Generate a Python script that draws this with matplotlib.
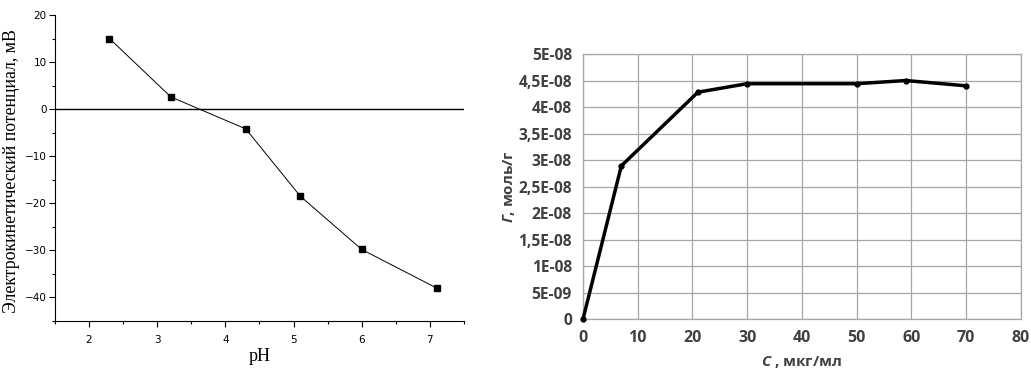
import numpy as np
import matplotlib.pyplot as plt
from matplotlib.ticker import MultipleLocator, FuncFormatter

# Левый график: дзета-потенциал от pH
ph = [2.3, 3.2, 4.3, 5.1, 6.0, 7.1]
zeta = [15.0, 2.6, -4.2, -18.5, -29.8, -38.0]

# Правый график: изотерма адсорбции
conc = [0, 7, 21, 30, 50, 59, 70]
gamma = [0.0, 2.89e-8, 4.28e-8, 4.44e-8, 4.44e-8, 4.50e-8, 4.40e-8]

plt.rcParams['mathtext.fontset'] = 'custom'
plt.rcParams['mathtext.it'] = 'Open Sans:italic:bold'
plt.rcParams['mathtext.rm'] = 'Open Sans:bold'

fig = plt.figure(figsize=(10.31, 3.70), dpi=100)

ax0 = fig.add_axes([0.0533, 0.1324, 0.3967, 0.8271])
ax1 = fig.add_axes([0.5655, 0.1378, 0.4245, 0.7162])

# --- левый ---
ax0.axhline(0, color='black', lw=1.0, zorder=1)
ax0.plot(ph, zeta, color='black', lw=0.7, marker='s', markersize=4.5, zorder=3)
ax0.set_xlim(1.5, 7.5)
ax0.set_ylim(-45, 20)
ax0.xaxis.set_major_locator(MultipleLocator(1))
ax0.xaxis.set_minor_locator(MultipleLocator(0.5))
ax0.yaxis.set_major_locator(MultipleLocator(10))
ax0.yaxis.set_minor_locator(MultipleLocator(5))
ax0.spines['top'].set_visible(False)
ax0.spines['right'].set_visible(False)
ax0.tick_params(axis='both', which='major', length=4, width=0.8, labelsize=7.5)
ax0.tick_params(axis='y', which='major', pad=2)
ax0.tick_params(axis='x', which='major', pad=6)
ax0.tick_params(axis='both', which='minor', length=2.5, width=0.8)
ax0.set_xlabel('pH', fontsize=13, family='Liberation Serif', labelpad=2)
ax0.set_ylabel('Электрокинетический потенциал, мВ', fontsize=12.8, family='Liberation Serif')
ax0.yaxis.set_label_coords(-0.085, 0.49)

# --- правый ---
grid_c = '#a6a6a6'
ax1.plot(conc, gamma, color='black', lw=2.5, marker='o', markersize=3.5, zorder=3, clip_on=False)
ax1.set_xlim(0, 80)
ax1.set_ylim(0, 5e-8)
ax1.xaxis.set_major_locator(MultipleLocator(10))
ax1.yaxis.set_major_locator(MultipleLocator(5e-9))


def fmt_e(v, pos):
    if abs(v) < 1e-12:
        return '0'
    s = f'{v:.1E}'
    mant, ex = s.split('E')
    if mant.endswith('.0'):
        mant = mant[:-2]
    mant = mant.replace('.', ',')
    exp = int(ex)
    return f'{mant}E-{abs(exp):02d}'


ax1.yaxis.set_major_formatter(FuncFormatter(fmt_e))
ax1.grid(True, color=grid_c, lw=0.9)
ax1.set_axisbelow(True)
for s in ax1.spines.values():
    s.set_color(grid_c)
    s.set_linewidth(0.9)
ax1.tick_params(axis='y', length=0, labelsize=11.2, labelcolor='#404040', pad=8)
ax1.tick_params(axis='x', length=0, labelsize=11.5, labelcolor='#404040', pad=8)
for lab in ax1.get_xticklabels() + ax1.get_yticklabels():
    lab.set_fontweight('bold')
    lab.set_family('Open Sans')
ax1.set_xlabel(r'$\mathit{C}$ , мкг/мл', fontsize=11, color='#404040', fontweight='bold',
               family='Open Sans', labelpad=6)
ax1.set_ylabel(r'$\mathit{Г}$, моль/г', fontsize=11, color='#404040', fontweight='bold',
               family='Open Sans')
ax1.yaxis.set_label_coords(-0.15, 0.5)

fig.savefig('out.png', dpi=100)
